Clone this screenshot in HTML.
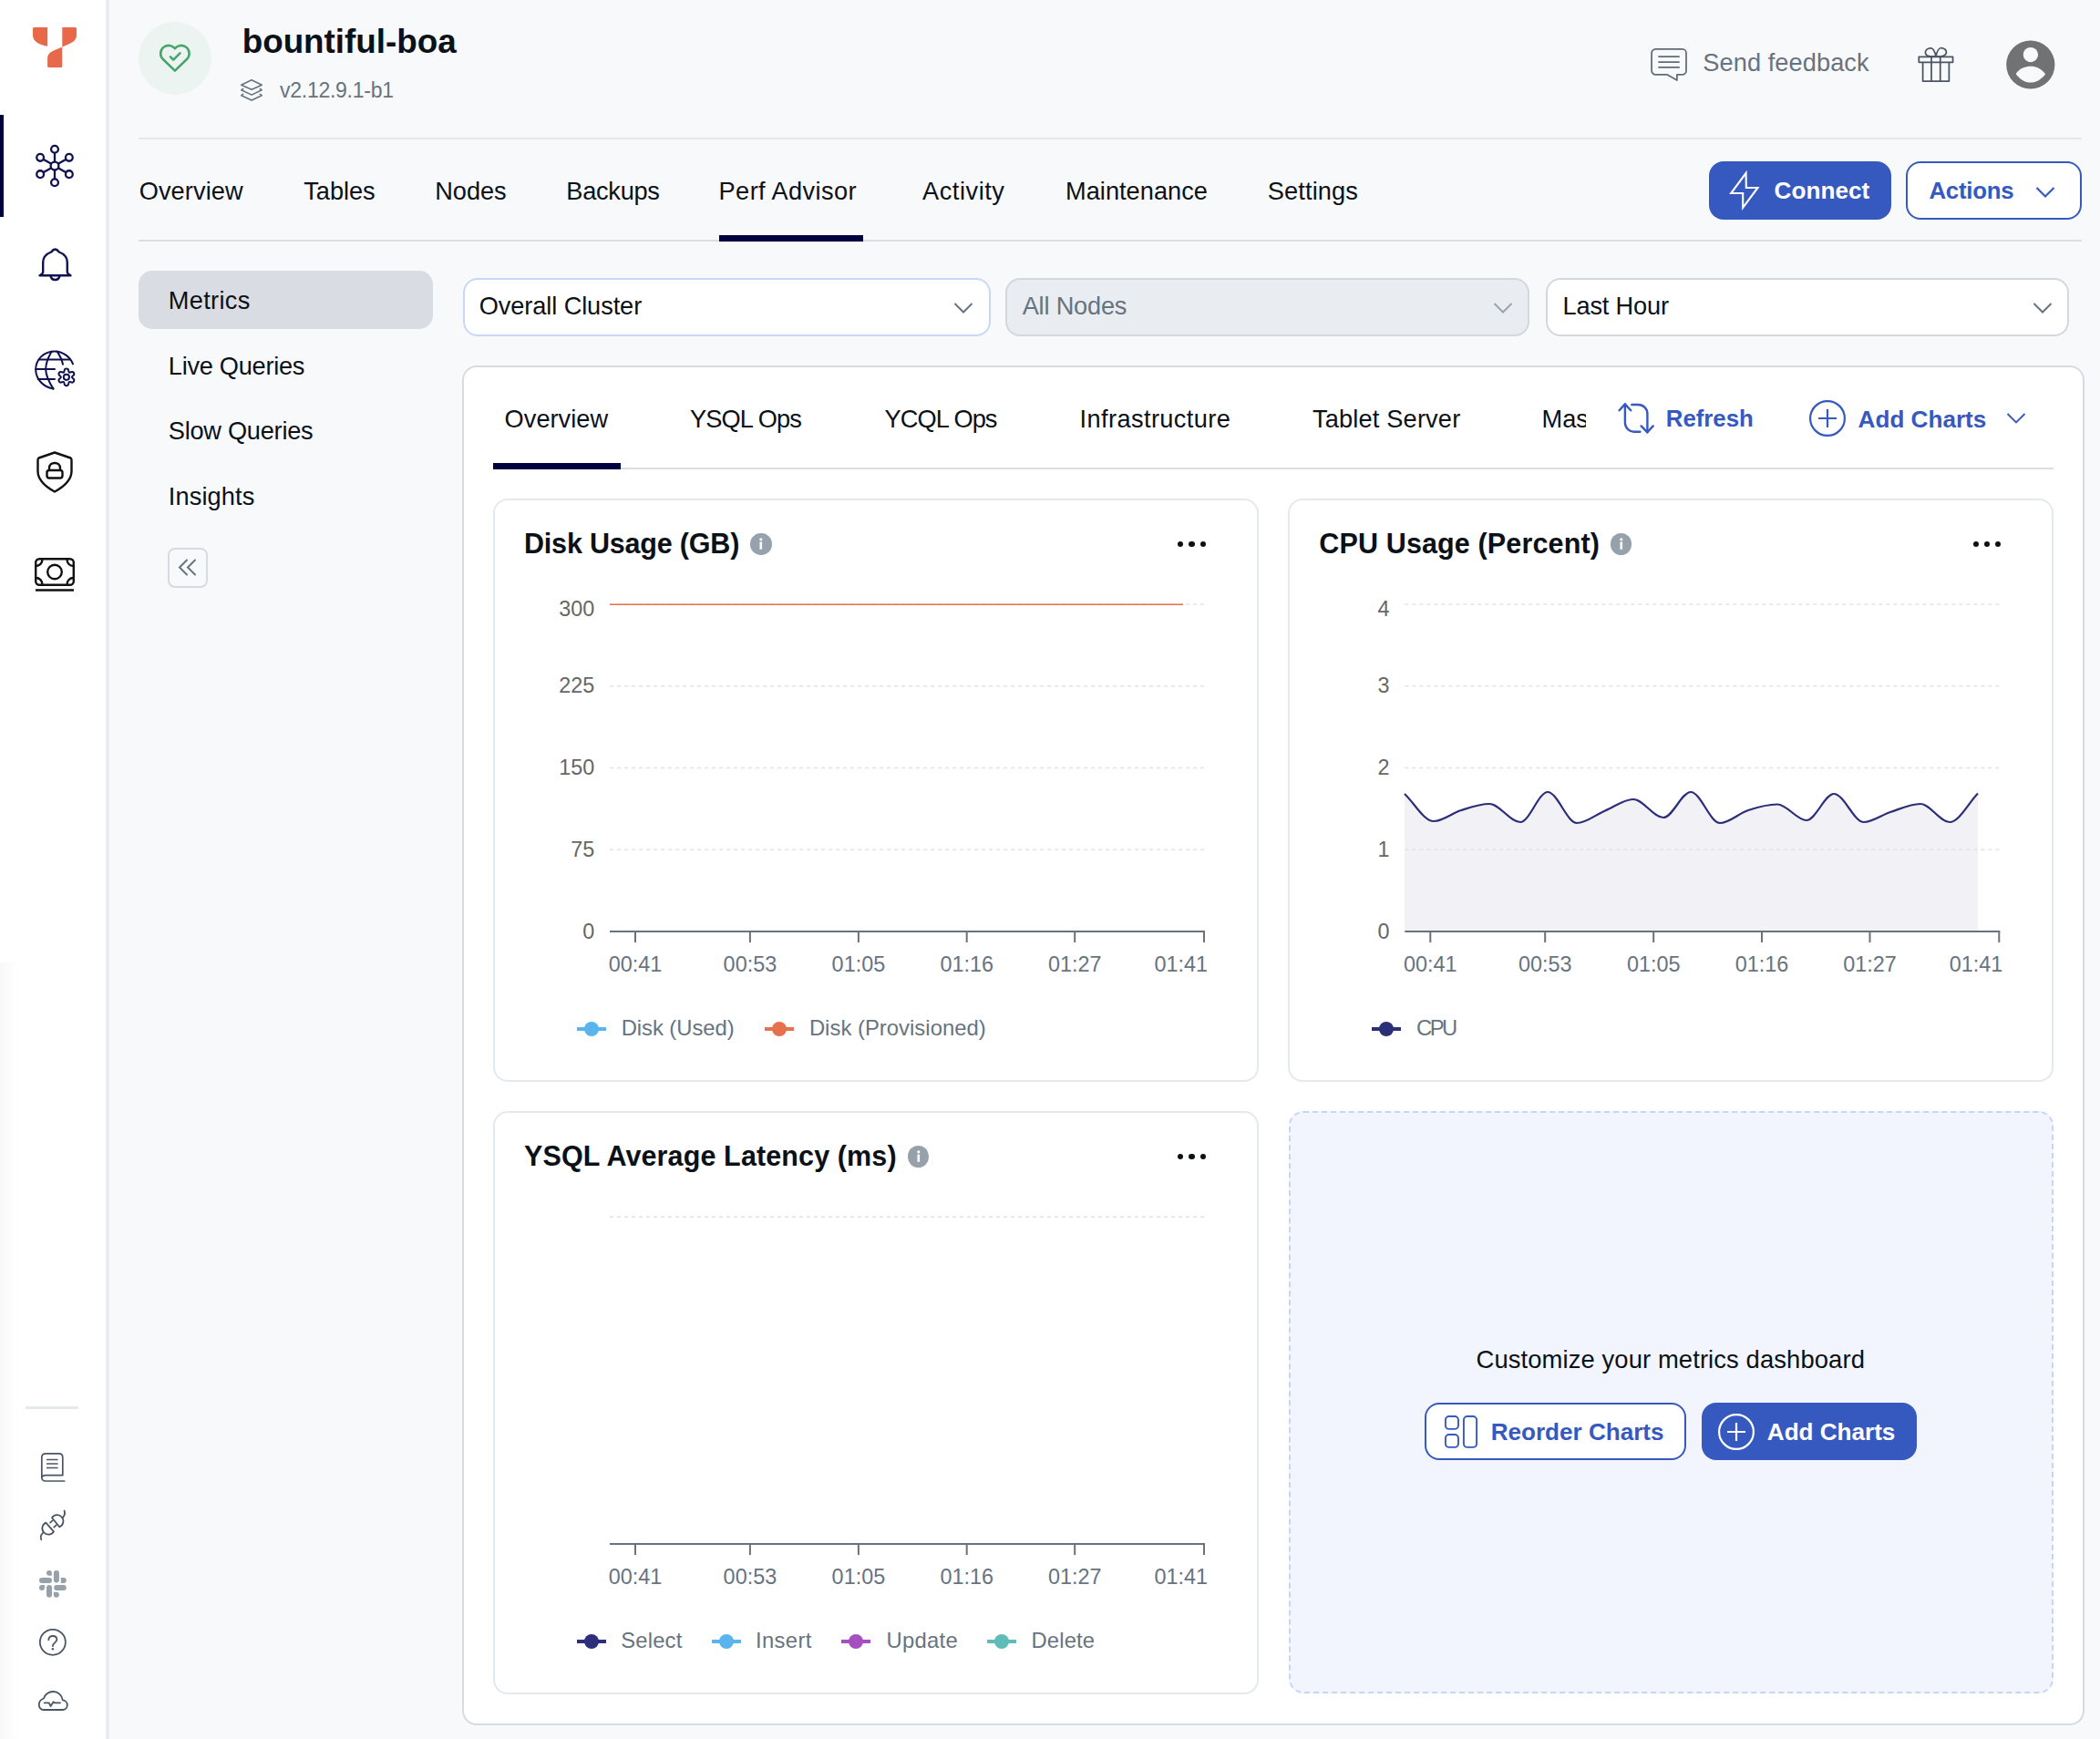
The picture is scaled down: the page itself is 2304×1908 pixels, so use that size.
<!DOCTYPE html>
<html><head><meta charset="utf-8"><title>bountiful-boa - Perf Advisor</title>
<style>
html,body{margin:0;padding:0;}
body{width:2304px;height:1908px;overflow:hidden;position:relative;background:#f8f9fb;font-family:"Liberation Sans", sans-serif;}
.t{position:absolute;white-space:nowrap;line-height:1;font-family:"Liberation Sans", sans-serif;}
svg{display:block}
</style></head><body>
<div style="position:absolute;left:0px;top:0px;width:116px;height:1908px;box-sizing:border-box;background:#ffffff"></div><div style="position:absolute;left:116px;top:0px;width:4px;height:1908px;box-sizing:border-box;background:#e9edf1"></div><div style="position:absolute;left:0px;top:1056px;width:24px;height:852px;box-sizing:border-box;background:linear-gradient(to right,#f8f8f8,#fdfdfd 60%,#ffffff)"></div><div style="position:absolute;left:0px;top:126px;width:4px;height:112px;box-sizing:border-box;background:#000041"></div><svg style="position:absolute;left:36px;top:30px;overflow:visible" width="48" height="44" viewBox="0 0 48 44"><path fill="#e8694a" d="M1.5,0 H16.1 V20.7 C8,19.5 0,16 0,8.5 V1.5 Q0,0 1.5,0 Z"/><path fill="#e8694a" d="M32.3,0 H46.5 Q48,0 48,1.5 V8.5 C48,14 44,16.5 38,19 L32.3,21.4 L24,24.9 C18,27.5 16.1,30 16.1,34.5 V42.5 Q16.1,44 17.6,44 H30.8 Q32.3,44 32.3,42.5 Z"/></svg><svg style="position:absolute;left:39px;top:159px;overflow:visible" width="42" height="46" viewBox="0 0 42 46"><g fill="none" stroke="#0f1150" stroke-width="2.3"><line x1="21.00" y1="18.70" x2="21.00" y2="9.00"/><circle cx="21.00" cy="4.70" r="3.9"/><line x1="24.72" y1="20.85" x2="33.12" y2="16.00"/><circle cx="36.85" cy="13.85" r="3.9"/><line x1="24.72" y1="25.15" x2="33.12" y2="30.00"/><circle cx="36.85" cy="32.15" r="3.9"/><line x1="21.00" y1="27.30" x2="21.00" y2="37.00"/><circle cx="21.00" cy="41.30" r="3.9"/><line x1="17.28" y1="25.15" x2="8.88" y2="30.00"/><circle cx="5.15" cy="32.15" r="3.9"/><line x1="17.28" y1="20.85" x2="8.88" y2="16.00"/><circle cx="5.15" cy="13.85" r="3.9"/><circle cx="21" cy="23" r="4.4"/></g></svg><svg style="position:absolute;left:42px;top:272px;overflow:visible" width="37" height="37" viewBox="0 0 37 37"><g fill="none" stroke="#0f1150" stroke-width="2.4" stroke-linejoin="round"><path d="M18.5,1.5 C16.5,1.5 15.5,2.8 14.2,4.5 C9,6.5 5.2,10.5 5.2,16 V26.5 C5.2,28 4,29 1.5,30.3 H35.5 C33,29 31.8,28 31.8,26.5 V16 C31.8,10.5 28,6.5 22.8,4.5 C21.5,2.8 20.5,1.5 18.5,1.5 Z"/><path d="M13.5,30.5 C14,33.5 16,35 18.5,35 C21,35 23,33.5 23.5,30.5"/></g></svg><svg style="position:absolute;left:38px;top:384px;overflow:visible" width="46" height="44" viewBox="0 0 46 44"><g fill="none" stroke="#0f1150" stroke-width="2" stroke-linecap="round" stroke-linejoin="round"><path d="M20.5,42.6 C9.5,40.5 1.2,32 1.2,21.5 C1.2,10.5 10,1.6 21.5,1.4 C31,1.3 39.5,8 42,15.4"/><path d="M20.5,42.6 C15,34 12.2,28 12.2,21 C12.2,14 15,8 18.7,1.6"/><path d="M24.7,1.6 C27.5,6 30,10.5 31,15.7"/><path d="M4.7,10.6 H39"/><path d="M1.3,21 H22"/><path d="M3.6,32 H22"/><path d="M33.20,21.06 C33.98,20.47 35.82,20.47 36.60,21.06 C37.38,21.65 37.06,24.12 37.90,24.60 C38.74,25.09 40.71,23.58 41.62,23.96 C42.52,24.34 43.43,25.93 43.32,26.90 C43.20,27.88 40.90,28.83 40.90,29.80 C40.90,30.77 43.20,31.72 43.32,32.70 C43.43,33.67 42.52,35.26 41.62,35.64 C40.71,36.02 38.74,34.51 37.90,35.00 C37.06,35.48 37.38,37.95 36.60,38.54 C35.82,39.13 33.98,39.13 33.20,38.54 C32.42,37.95 32.74,35.48 31.90,35.00 C31.06,34.51 29.09,36.02 28.18,35.64 C27.28,35.26 26.37,33.67 26.48,32.70 C26.60,31.72 28.90,30.77 28.90,29.80 C28.90,28.83 26.60,27.88 26.48,26.90 C26.37,25.93 27.28,24.34 28.18,23.96 C29.09,23.58 31.06,25.09 31.90,24.60 C32.74,24.12 32.42,21.65 33.20,21.06 Z"/><circle cx="34.9" cy="29.8" r="3.1"/></g></svg><svg style="position:absolute;left:40px;top:495px;overflow:visible" width="40" height="46" viewBox="0 0 40 46"><g fill="none" stroke="#111111" stroke-width="2.4" stroke-linejoin="round"><path d="M20,1.5 L37.5,7.5 C38.5,8 38.5,9 38.5,10 V22 C38.5,31 31,38.5 20,44.5 C9,38.5 1.5,31 1.5,22 V10 C1.5,9 1.5,8 2.5,7.5 Z"/><path d="M14,21 V18.5 C14,15.2 16.6,13 20,13 C23.4,13 26,15.2 26,18.5 V21"/><rect x="11.5" y="21" width="17" height="8.5" rx="2.5"/></g></svg><svg style="position:absolute;left:38px;top:612px;overflow:visible" width="44" height="37" viewBox="0 0 44 37"><g fill="none" stroke="#111111" stroke-width="2.4"><rect x="1.2" y="1.2" width="41.6" height="28.5" rx="4"/><circle cx="22" cy="15.5" r="7.8"/><path d="M1.2,9 C5.5,9 8.5,6 8.5,1.2"/><path d="M42.8,9 C38.5,9 35.5,6 35.5,1.2"/><path d="M1.2,22 C5.5,22 8.5,25 8.5,29.7"/><path d="M42.8,22 C38.5,22 35.5,25 35.5,29.7"/><path d="M1,35.5 H43"/></g></svg><div style="position:absolute;left:28px;top:1543px;width:58px;height:3px;box-sizing:border-box;background:#e4e9ee"></div><svg style="position:absolute;left:45px;top:1594px;overflow:visible" width="27" height="32" viewBox="0 0 27 32"><g fill="none" stroke="#4b5563" stroke-width="1.7" stroke-linecap="round" stroke-linejoin="round"><path d="M25.7,31 H5 C2.5,31 0.8,29.2 0.8,27.5 V5 C0.8,2.5 2.5,0.8 5,0.8 H19.6 C22,0.8 23.8,2.5 23.8,5 V24.6 H5 C2.5,24.6 0.8,26 0.8,27.5"/><path d="M6.7,7.5 H17.9 M6.7,12 H17.9 M6.7,16.5 H17.9"/></g></svg><svg style="position:absolute;left:38px;top:1650px;overflow:visible" width="40" height="45" viewBox="0 0 40 45"><g fill="none" stroke="#4b5563" stroke-width="1.8" stroke-linecap="round" stroke-linejoin="round"><path d="M19,15.2 A6.8,6.8 0 1 1 27.2,25.3 Z"/><path d="M20.9,30.4 A6.8,6.8 0 1 1 12.3,20.6 Z"/><path d="M17.1,20.6 L19.6,18.4 M21.2,25.6 L23.7,23.4"/><path d="M30.75,15 Q34,12 32.6,7.5"/><path d="M9.1,31.8 Q5.5,35 7.3,39.2"/></g></svg><svg style="position:absolute;left:43px;top:1723px;overflow:visible" width="30" height="30" viewBox="0 0 30 30"><g fill="#97a1ab"><path d="M8,2.85 A2.85,2.85 0 0 1 13.9,2.85 V5.7 H10.85 A2.85,2.85 0 0 1 8,2.85 Z"/><rect x="15.9" y="0" width="6" height="13.6" rx="3"/><rect x="0" y="8" width="14" height="6" rx="3"/><path d="M23.8,8 H26.8 A3,3 0 0 1 26.8,14 H23.8 Z"/><path d="M6,15.9 V18.9 A3,3 0 0 1 0,18.9 A3,3 0 0 1 3,15.9 Z"/><rect x="8" y="15.9" width="6" height="13.9" rx="3"/><rect x="16.2" y="15.9" width="13.6" height="6" rx="3"/><path d="M15.9,23.8 H18.9 A3,3 0 0 1 18.9,29.8 A3,3 0 0 1 15.9,26.8 Z"/></g></svg><svg style="position:absolute;left:43px;top:1787px;overflow:visible" width="30" height="30" viewBox="0 0 30 30"><g fill="none" stroke="#4b5563" stroke-width="1.8" stroke-linecap="round"><circle cx="14.85" cy="14.8" r="14"/><path d="M10.3,12.3 C10.3,9.3 12.4,8 14.9,8 C17.4,8 19.4,9.5 19.4,12 C19.4,14.8 14.9,15.6 14.9,19"/></g><circle cx="14.9" cy="22.3" r="1.2" fill="#4b5563"/></svg><svg style="position:absolute;left:42px;top:1855px;overflow:visible" width="33" height="23" viewBox="0 0 33 23"><g fill="none" stroke="#4b5563" stroke-width="1.8" stroke-linejoin="round" stroke-linecap="round"><path d="M5.5,21 H26.5 C29.8,21 31.8,18.5 31.8,15.8 C31.8,12.8 29.5,10.5 26.8,10.3 C25.8,5 21.8,1 16.5,1 C11,1 7,4.5 6,8.5 C3,9.5 0.8,12 0.8,15.5 C0.8,18.5 3,21 5.5,21 Z"/><path d="M6.7,13.4 H11.8 L13.6,17 L16.6,12.2 L18.3,13.4 H24"/></g></svg><div style="position:absolute;left:152px;top:24px;width:80px;height:80px;border-radius:50%;background:#ecf4f1"></div><svg style="position:absolute;left:170px;top:44px;overflow:visible" width="45" height="40" viewBox="0 0 45 40"><g fill="none" stroke="#47a56c" stroke-width="2.55" stroke-linecap="round" stroke-linejoin="round"><path d="M21.9,33.7 L8.86,21.0 A8.8,8.8 0 1 1 21.9,9.24 A8.8,8.8 0 1 1 34.94,21.0 Z"/><path d="M17,18.4 L20.2,21.6 L27.5,14.3"/></g></svg><div class="t" style="left:265.7px;top:28.4px;font-size:36.8px;font-weight:700;color:#0b1117;letter-spacing:-0.003px;">bountiful-boa</div><svg style="position:absolute;left:258px;top:82px;overflow:visible" width="36" height="34" viewBox="0 0 36 34"><g fill="none" stroke="#67737f" stroke-width="1.6" stroke-linejoin="round" stroke-linecap="round"><path d="M18,5.7 L29.3,11.2 L18.1,16.3 L6.7,11.2 Z"/><path d="M8.6,15.5 L6.8,16.8 L18.1,22.1 L29.2,16.8 L27.4,15.5"/><path d="M8.6,21.3 L6.8,22.7 L18.1,28 L29.2,22.7 L27.4,21.3"/></g></svg><div class="t" style="left:307.0px;top:88.0px;font-size:23px;font-weight:400;color:#67737f;letter-spacing:-0.261px;">v2.12.9.1-b1</div><svg style="position:absolute;left:1805px;top:45px;overflow:visible" width="55" height="50" viewBox="0 0 55 50"><g fill="none" stroke="#5f6b78" stroke-width="1.75" stroke-linejoin="round" stroke-linecap="round"><path d="M11.4,8.9 H40.7 C43,8.9 45,10.9 45,13.2 V32.5 C45,34.8 43,36.8 40.7,36.8 H34.9 V43 L23.9,36.8 H11.4 C9.1,36.8 7.05,34.8 7.05,32.5 V13.2 C7.05,10.9 9.1,8.9 11.4,8.9 Z"/><path d="M15,17 H37.1 M15,23 H37.1 M15,28.9 H37.1"/></g></svg><div class="t" style="left:1868.3px;top:55.0px;font-size:27.2px;font-weight:400;color:#67737f;letter-spacing:0.077px;">Send feedback</div><svg style="position:absolute;left:2100px;top:45px;overflow:visible" width="50" height="50" viewBox="0 0 50 50"><g fill="none" stroke="#4b5563" stroke-width="1.75" stroke-linejoin="round"><rect x="5.3" y="17.4" width="37.25" height="5.9"/><path d="M9.6,23.3 V44.1 H38.4 V23.3"/><path d="M19,17.4 V44.1 M28.75,17.4 V44.1"/><path d="M23.9,17 C23,12 21,8 18.5,7.8 C15,7.5 12.3,10 12.4,12.5 C12.5,15 14,16.3 17,16.6 Z"/><path d="M23.9,17 C25,12 27,7.6 29.8,7.5 C33,7.5 35.4,10 35.4,12.2 C35.4,15 33.5,16.2 30.5,16.5 Z"/></g></svg><svg style="position:absolute;left:2195px;top:38px;overflow:visible" width="66" height="66" viewBox="0 0 66 66"><circle cx="32.8" cy="33" r="26.6" fill="#717274"/><circle cx="32.9" cy="22.1" r="8.15" fill="#f8f9fb"/><path fill="#f8f9fb" d="M16.7,43 C21,36.5 27.5,34.7 32.9,34.7 C38.5,34.7 45,37 49.1,43.4 C44.5,49 39,52.6 32.9,52.6 C26.5,52.6 21,49 16.7,43 Z"/></svg><div style="position:absolute;left:152px;top:151px;width:2132px;height:2px;box-sizing:border-box;background:#e6e9ed"></div><div class="t" style="left:152.7px;top:195.5px;font-size:27.2px;font-weight:400;color:#0b1117;letter-spacing:0.092px;">Overview</div><div class="t" style="left:333.3px;top:195.5px;font-size:27.2px;font-weight:400;color:#0b1117;letter-spacing:-0.045px;">Tables</div><div class="t" style="left:477.3px;top:195.5px;font-size:27.2px;font-weight:400;color:#0b1117;letter-spacing:-0.056px;">Nodes</div><div class="t" style="left:621.3px;top:195.5px;font-size:27.2px;font-weight:400;color:#0b1117;letter-spacing:-0.271px;">Backups</div><div class="t" style="left:788.6px;top:195.5px;font-size:27.2px;font-weight:400;color:#0b1117;letter-spacing:0.396px;">Perf Advisor</div><div class="t" style="left:1012.0px;top:195.5px;font-size:27.2px;font-weight:400;color:#0b1117;letter-spacing:0.551px;">Activity</div><div class="t" style="left:1169.0px;top:195.5px;font-size:27.2px;font-weight:400;color:#0b1117;letter-spacing:0.025px;">Maintenance</div><div class="t" style="left:1390.7px;top:195.5px;font-size:27.2px;font-weight:400;color:#0b1117;letter-spacing:0.146px;">Settings</div><div style="position:absolute;left:152px;top:263px;width:2132px;height:2px;box-sizing:border-box;background:#dadfe5"></div><div style="position:absolute;left:789px;top:258px;width:158px;height:7px;box-sizing:border-box;background:#000041"></div><div style="position:absolute;left:1875px;top:177px;width:200px;height:64px;box-sizing:border-box;background:#3659bf;border-radius:16px"></div><svg style="position:absolute;left:1890px;top:183px;overflow:visible" width="50" height="50" viewBox="0 0 50 50"><path fill="none" stroke="#ffffff" stroke-width="2.1" stroke-linejoin="miter" d="M25.6,6.9 L9.2,29 H22.2 V44.9 L38.5,23 H25.8 Z"/></svg><div class="t" style="left:1946.6px;top:196.2px;font-size:26.1px;font-weight:700;color:#ffffff;letter-spacing:0.033px;">Connect</div><div style="position:absolute;left:2091px;top:177px;width:193px;height:64px;box-sizing:border-box;background:#ffffff;border:2px solid #3659bf;border-radius:16px"></div><div class="t" style="left:2116.5px;top:196.5px;font-size:25.8px;font-weight:700;color:#3659bf;letter-spacing:-0.268px;">Actions</div><svg style="position:absolute;left:2233px;top:204px;overflow:visible" width="22" height="14" viewBox="0 0 22 14"><path fill="none" stroke="#3659bf" stroke-width="2.2" d="M1.5,2 L11,11.5 L20.5,2"/></svg><div style="position:absolute;left:152px;top:297px;width:323px;height:64px;box-sizing:border-box;background:#d9dde3;border-radius:15px"></div><div class="t" style="left:184.8px;top:315.6px;font-size:27.2px;font-weight:400;color:#0b1117;letter-spacing:0.326px;">Metrics</div><div class="t" style="left:184.8px;top:387.7px;font-size:27.2px;font-weight:400;color:#0b1117;letter-spacing:-0.273px;">Live Queries</div><div class="t" style="left:184.8px;top:459.0px;font-size:27.2px;font-weight:400;color:#0b1117;letter-spacing:-0.260px;">Slow Queries</div><div class="t" style="left:184.8px;top:531.0px;font-size:27.2px;font-weight:400;color:#0b1117;letter-spacing:0.108px;">Insights</div><div style="position:absolute;left:184px;top:601px;width:44px;height:44px;box-sizing:border-box;background:#f8f9fb;border:2px solid #d6dbe1;border-radius:8px"></div><svg style="position:absolute;left:195px;top:613px;overflow:visible" width="22" height="20" viewBox="0 0 22 20"><g fill="none" stroke="#67737f" stroke-width="2" stroke-linecap="round"><path d="M10,1.5 L2,9.5 L10,17.5"/><path d="M19,1.5 L11,9.5 L19,17.5"/></g></svg><div style="position:absolute;left:508px;top:305px;width:579px;height:64px;box-sizing:border-box;background:#ffffff;border:2px solid #c8d7f8;border-radius:16px"></div><div class="t" style="left:525.7px;top:322.0px;font-size:27.2px;font-weight:400;color:#0b1117;letter-spacing:-0.091px;">Overall Cluster</div><svg style="position:absolute;left:1046px;top:331px;overflow:visible" width="22" height="14" viewBox="0 0 22 14"><path fill="none" stroke="#67737f" stroke-width="2" d="M1.5,2 L11,11.5 L20.5,2"/></svg><div style="position:absolute;left:1103px;top:305px;width:575px;height:64px;box-sizing:border-box;background:#e9ecf0;border:2px solid #d3d8de;border-radius:16px"></div><div class="t" style="left:1121.7px;top:322.0px;font-size:27.2px;font-weight:400;color:#67737f;letter-spacing:-0.201px;">All Nodes</div><svg style="position:absolute;left:1638px;top:331px;overflow:visible" width="22" height="14" viewBox="0 0 22 14"><path fill="none" stroke="#9aa4ae" stroke-width="2" d="M1.5,2 L11,11.5 L20.5,2"/></svg><div style="position:absolute;left:1696px;top:305px;width:574px;height:64px;box-sizing:border-box;background:#ffffff;border:2px solid #d3d8de;border-radius:16px"></div><div class="t" style="left:1714.6px;top:322.2px;font-size:27.2px;font-weight:400;color:#0b1117;letter-spacing:-0.191px;">Last Hour</div><svg style="position:absolute;left:2230px;top:331px;overflow:visible" width="22" height="14" viewBox="0 0 22 14"><path fill="none" stroke="#67737f" stroke-width="2" d="M1.5,2 L11,11.5 L20.5,2"/></svg><div style="position:absolute;left:507px;top:401px;width:1780px;height:1492px;box-sizing:border-box;background:#ffffff;border:2px solid #d6dbe2;border-radius:16px"></div><div class="t" style="left:553.6px;top:445.7px;font-size:27.2px;font-weight:400;color:#0b1117;letter-spacing:0.021px;">Overview</div><div class="t" style="left:757.0px;top:445.7px;font-size:27.2px;font-weight:400;color:#0b1117;letter-spacing:-0.858px;">YSQL Ops</div><div class="t" style="left:970.6px;top:445.7px;font-size:27.2px;font-weight:400;color:#0b1117;letter-spacing:-0.944px;">YCQL Ops</div><div class="t" style="left:1184.5px;top:445.7px;font-size:27.2px;font-weight:400;color:#0b1117;letter-spacing:0.404px;">Infrastructure</div><div class="t" style="left:1440.0px;top:445.7px;font-size:27.2px;font-weight:400;color:#0b1117;letter-spacing:0.170px;">Tablet Server</div><div class="t" style="left:1691.5px;top:445.7px;font-size:27.2px;font-weight:400;color:#0b1117;letter-spacing:0.000px;width:48px;overflow:hidden;">Mas</div><div style="position:absolute;left:541px;top:513px;width:1712px;height:2px;box-sizing:border-box;background:#dadfe5"></div><div style="position:absolute;left:541px;top:508px;width:140px;height:7px;box-sizing:border-box;background:#000041"></div><svg style="position:absolute;left:1776px;top:438px;overflow:visible" width="40" height="42" viewBox="0 0 40 42"><g fill="none" stroke="#3659bf" stroke-width="2.4" stroke-linecap="round" stroke-linejoin="round"><path d="M6.9,5.4 V25.7 A10,10 0 0 0 16.9,35.7 H23.4"/><path d="M0.6,12.3 L6.9,5.4 L13.2,12.3"/><path d="M31.4,36.3 V16 A10,10 0 0 0 21.4,6 H14.3"/><path d="M24.6,29.4 L31.4,36.3 L37.7,29.4"/></g></svg><div class="t" style="left:1827.8px;top:446.9px;font-size:25.8px;font-weight:700;color:#3659bf;letter-spacing:-0.012px;">Refresh</div><svg style="position:absolute;left:1985px;top:439px;overflow:visible" width="40" height="40" viewBox="0 0 40 40"><g fill="none" stroke="#3659bf" stroke-width="2.2"><circle cx="20" cy="20" r="18.9"/><path d="M20,10 V30 M10,20 H30"/></g></svg><div class="t" style="left:2038.6px;top:446.6px;font-size:26.1px;font-weight:700;color:#3659bf;letter-spacing:0.005px;">Add Charts</div><svg style="position:absolute;left:2201px;top:452px;overflow:visible" width="22" height="14" viewBox="0 0 22 14"><path fill="none" stroke="#3659bf" stroke-width="1.9" d="M1.5,2 L11,11.5 L20.5,2"/></svg><div style="position:absolute;left:540.7px;top:546.9px;width:840.0px;height:639.7999999999998px;box-sizing:border-box;background:#ffffff;border:2px solid #e4e9ee;border-radius:16px"></div><div class="t" style="left:575.0px;top:580.9px;font-size:30.5px;font-weight:700;color:#0b1117;letter-spacing:-0.192px;">Disk Usage (GB)</div><div style="position:absolute;left:823.3px;top:585.3px;width:23.6px;height:23.6px;border-radius:50%;background:#97a1ab"></div><svg style="position:absolute;left:823.3px;top:585.3px;overflow:visible" width="23.6" height="23.6" viewBox="0 0 23.6 23.6"><circle cx="11.8" cy="6.8" r="1.6" fill="#fff"/><rect x="10.5" y="9.6" width="2.6" height="8.2" rx="0.6" fill="#fff"/></svg><div style="position:absolute;left:1292.3px;top:593.8px;width:6.2px;height:6.2px;border-radius:50%;background:#0b1117"></div><div style="position:absolute;left:1304.4px;top:593.8px;width:6.2px;height:6.2px;border-radius:50%;background:#0b1117"></div><div style="position:absolute;left:1316.5px;top:593.8px;width:6.2px;height:6.2px;border-radius:50%;background:#0b1117"></div><svg style="position:absolute;left:0px;top:0px;overflow:visible" width="2304" height="1908" viewBox="0 0 2304 1908"><line x1="669.0" y1="663.0" x2="1321.0" y2="663.0" stroke="#dfe4e9" stroke-width="1.6" stroke-dasharray="4 4"/><line x1="669.0" y1="752.7" x2="1321.0" y2="752.7" stroke="#dfe4e9" stroke-width="1.6" stroke-dasharray="4 4"/><line x1="669.0" y1="842.5" x2="1321.0" y2="842.5" stroke="#dfe4e9" stroke-width="1.6" stroke-dasharray="4 4"/><line x1="669.0" y1="932.3" x2="1321.0" y2="932.3" stroke="#dfe4e9" stroke-width="1.6" stroke-dasharray="4 4"/><line x1="669" y1="663.3" x2="1298" y2="663.3" stroke="#ea6f4f" stroke-width="1.6"/><line x1="669.0" y1="1022.0" x2="1322.0" y2="1022.0" stroke="#67737f" stroke-width="2"/><line x1="697.0" y1="1022.0" x2="697.0" y2="1034.0" stroke="#67737f" stroke-width="2"/><line x1="822.9" y1="1022.0" x2="822.9" y2="1034.0" stroke="#67737f" stroke-width="2"/><line x1="941.9" y1="1022.0" x2="941.9" y2="1034.0" stroke="#67737f" stroke-width="2"/><line x1="1060.7" y1="1022.0" x2="1060.7" y2="1034.0" stroke="#67737f" stroke-width="2"/><line x1="1179.2" y1="1022.0" x2="1179.2" y2="1034.0" stroke="#67737f" stroke-width="2"/><line x1="1321.0" y1="1022.0" x2="1321.0" y2="1034.0" stroke="#67737f" stroke-width="2"/></svg><div class="t" style="left:697.0px;transform:translateX(-50%);top:1046.6px;font-size:23.4px;font-weight:400;color:#67737f;letter-spacing:0.000px;">00:41</div><div class="t" style="left:822.9px;transform:translateX(-50%);top:1046.6px;font-size:23.4px;font-weight:400;color:#67737f;letter-spacing:0.000px;">00:53</div><div class="t" style="left:941.9px;transform:translateX(-50%);top:1046.6px;font-size:23.4px;font-weight:400;color:#67737f;letter-spacing:0.000px;">01:05</div><div class="t" style="left:1060.7px;transform:translateX(-50%);top:1046.6px;font-size:23.4px;font-weight:400;color:#67737f;letter-spacing:0.000px;">01:16</div><div class="t" style="left:1179.2px;transform:translateX(-50%);top:1046.6px;font-size:23.4px;font-weight:400;color:#67737f;letter-spacing:0.000px;">01:27</div><div class="t" style="right:979.0px;top:1046.6px;font-size:23.4px;font-weight:400;color:#67737f;letter-spacing:0.000px;">01:41</div><div class="t" style="right:1651.8px;top:657.2px;font-size:23.4px;font-weight:400;color:#666666;letter-spacing:0.000px;">300</div><div class="t" style="right:1651.8px;top:741.4px;font-size:23.4px;font-weight:400;color:#666666;letter-spacing:0.000px;">225</div><div class="t" style="right:1651.8px;top:831.2px;font-size:23.4px;font-weight:400;color:#666666;letter-spacing:0.000px;">150</div><div class="t" style="right:1651.8px;top:921.0px;font-size:23.4px;font-weight:400;color:#666666;letter-spacing:0.000px;">75</div><div class="t" style="right:1651.8px;top:1010.7px;font-size:23.4px;font-weight:400;color:#666666;letter-spacing:0.000px;">0</div><div style="position:absolute;left:633.0px;top:1126.9px;width:32px;height:4px;background:#5ab4ee"></div><div style="position:absolute;left:641.0px;top:1120.9px;width:16px;height:16px;border-radius:50%;background:#5ab4ee"></div><div class="t" style="left:681.7px;top:1115.6px;font-size:23.8px;font-weight:400;color:#67737f;letter-spacing:-0.040px;">Disk (Used)</div><div style="position:absolute;left:839.0px;top:1126.9px;width:32px;height:4px;background:#e8714d"></div><div style="position:absolute;left:847.0px;top:1120.9px;width:16px;height:16px;border-radius:50%;background:#e8714d"></div><div class="t" style="left:887.9px;top:1115.6px;font-size:23.8px;font-weight:400;color:#67737f;letter-spacing:0.041px;">Disk (Provisioned)</div><div style="position:absolute;left:1413.0px;top:546.9px;width:840.0px;height:639.7999999999998px;box-sizing:border-box;background:#ffffff;border:2px solid #e4e9ee;border-radius:16px"></div><div class="t" style="left:1447.3px;top:580.9px;font-size:30.5px;font-weight:700;color:#0b1117;letter-spacing:0.139px;">CPU Usage (Percent)</div><div style="position:absolute;left:1766.9px;top:585.3px;width:23.6px;height:23.6px;border-radius:50%;background:#97a1ab"></div><svg style="position:absolute;left:1766.9px;top:585.3px;overflow:visible" width="23.6" height="23.6" viewBox="0 0 23.6 23.6"><circle cx="11.8" cy="6.8" r="1.6" fill="#fff"/><rect x="10.5" y="9.6" width="2.6" height="8.2" rx="0.6" fill="#fff"/></svg><div style="position:absolute;left:2164.6px;top:593.8px;width:6.2px;height:6.2px;border-radius:50%;background:#0b1117"></div><div style="position:absolute;left:2176.7px;top:593.8px;width:6.2px;height:6.2px;border-radius:50%;background:#0b1117"></div><div style="position:absolute;left:2188.8px;top:593.8px;width:6.2px;height:6.2px;border-radius:50%;background:#0b1117"></div><svg style="position:absolute;left:0px;top:0px;overflow:visible" width="2304" height="1908" viewBox="0 0 2304 1908"><path d="M1541,871 C1551.67,881.00 1562.33,901.00 1573,901 C1583.00,901.00 1593.00,892.14 1603,889 C1613.33,885.75 1623.67,882.00 1634,882 C1645.33,882.00 1656.67,902.00 1668,902 C1678.00,902.00 1688.00,869.00 1698,869 C1708.67,869.00 1719.33,903.00 1730,903 C1740.33,903.00 1750.67,893.83 1761,889.5 C1771.33,885.17 1781.67,877.00 1792,877 C1803.00,877.00 1814.00,897.00 1825,897 C1835.00,897.00 1845.00,869.00 1855,869 C1865.67,869.00 1876.33,903.00 1887,903 C1897.33,903.00 1907.67,892.40 1918,889 C1928.67,885.49 1939.33,882.50 1950,882.5 C1960.67,882.50 1971.33,900.00 1982,900 C1992.00,900.00 2002.00,871.00 2012,871 C2023.00,871.00 2034.00,902.00 2045,902 C2054.67,902.00 2064.33,894.18 2074,891 C2085.00,887.38 2096.00,882.00 2107,882 C2117.67,882.00 2128.33,902.00 2139,902 C2149.33,902.00 2159.67,881.00 2170,870.5 L2170,1021.9 L1541,1021.9 Z" fill="#f1f1f6"/><line x1="1541.3" y1="663.0" x2="2193.3" y2="663.0" stroke="#dfe4e9" stroke-width="1.6" stroke-dasharray="4 4"/><line x1="1541.3" y1="752.7" x2="2193.3" y2="752.7" stroke="#dfe4e9" stroke-width="1.6" stroke-dasharray="4 4"/><line x1="1541.3" y1="842.5" x2="2193.3" y2="842.5" stroke="#dfe4e9" stroke-width="1.6" stroke-dasharray="4 4"/><line x1="1541.3" y1="932.3" x2="2193.3" y2="932.3" stroke="#dfe4e9" stroke-width="1.6" stroke-dasharray="4 4"/><path d="M1541,871 C1551.67,881.00 1562.33,901.00 1573,901 C1583.00,901.00 1593.00,892.14 1603,889 C1613.33,885.75 1623.67,882.00 1634,882 C1645.33,882.00 1656.67,902.00 1668,902 C1678.00,902.00 1688.00,869.00 1698,869 C1708.67,869.00 1719.33,903.00 1730,903 C1740.33,903.00 1750.67,893.83 1761,889.5 C1771.33,885.17 1781.67,877.00 1792,877 C1803.00,877.00 1814.00,897.00 1825,897 C1835.00,897.00 1845.00,869.00 1855,869 C1865.67,869.00 1876.33,903.00 1887,903 C1897.33,903.00 1907.67,892.40 1918,889 C1928.67,885.49 1939.33,882.50 1950,882.5 C1960.67,882.50 1971.33,900.00 1982,900 C1992.00,900.00 2002.00,871.00 2012,871 C2023.00,871.00 2034.00,902.00 2045,902 C2054.67,902.00 2064.33,894.18 2074,891 C2085.00,887.38 2096.00,882.00 2107,882 C2117.67,882.00 2128.33,902.00 2139,902 C2149.33,902.00 2159.67,881.00 2170,870.5" fill="none" stroke="#2b2e78" stroke-width="2.2"/><line x1="1541.3" y1="1022.0" x2="2194.3" y2="1022.0" stroke="#67737f" stroke-width="2"/><line x1="1569.3" y1="1022.0" x2="1569.3" y2="1034.0" stroke="#67737f" stroke-width="2"/><line x1="1695.1999999999998" y1="1022.0" x2="1695.1999999999998" y2="1034.0" stroke="#67737f" stroke-width="2"/><line x1="1814.1999999999998" y1="1022.0" x2="1814.1999999999998" y2="1034.0" stroke="#67737f" stroke-width="2"/><line x1="1933.0" y1="1022.0" x2="1933.0" y2="1034.0" stroke="#67737f" stroke-width="2"/><line x1="2051.5" y1="1022.0" x2="2051.5" y2="1034.0" stroke="#67737f" stroke-width="2"/><line x1="2193.3" y1="1022.0" x2="2193.3" y2="1034.0" stroke="#67737f" stroke-width="2"/></svg><div class="t" style="left:1569.3px;transform:translateX(-50%);top:1046.6px;font-size:23.4px;font-weight:400;color:#67737f;letter-spacing:0.000px;">00:41</div><div class="t" style="left:1695.2px;transform:translateX(-50%);top:1046.6px;font-size:23.4px;font-weight:400;color:#67737f;letter-spacing:0.000px;">00:53</div><div class="t" style="left:1814.2px;transform:translateX(-50%);top:1046.6px;font-size:23.4px;font-weight:400;color:#67737f;letter-spacing:0.000px;">01:05</div><div class="t" style="left:1933.0px;transform:translateX(-50%);top:1046.6px;font-size:23.4px;font-weight:400;color:#67737f;letter-spacing:0.000px;">01:16</div><div class="t" style="left:2051.5px;transform:translateX(-50%);top:1046.6px;font-size:23.4px;font-weight:400;color:#67737f;letter-spacing:0.000px;">01:27</div><div class="t" style="right:106.7px;top:1046.6px;font-size:23.4px;font-weight:400;color:#67737f;letter-spacing:0.000px;">01:41</div><div class="t" style="right:779.5px;top:657.2px;font-size:23.4px;font-weight:400;color:#666666;letter-spacing:0.000px;">4</div><div class="t" style="right:779.5px;top:741.4px;font-size:23.4px;font-weight:400;color:#666666;letter-spacing:0.000px;">3</div><div class="t" style="right:779.5px;top:831.2px;font-size:23.4px;font-weight:400;color:#666666;letter-spacing:0.000px;">2</div><div class="t" style="right:779.5px;top:921.0px;font-size:23.4px;font-weight:400;color:#666666;letter-spacing:0.000px;">1</div><div class="t" style="right:779.5px;top:1010.7px;font-size:23.4px;font-weight:400;color:#666666;letter-spacing:0.000px;">0</div><div style="position:absolute;left:1505.0px;top:1126.9px;width:32px;height:4px;background:#2b2e78"></div><div style="position:absolute;left:1513.0px;top:1120.9px;width:16px;height:16px;border-radius:50%;background:#2b2e78"></div><div class="t" style="left:1553.9px;top:1115.6px;font-size:23.8px;font-weight:400;color:#67737f;letter-spacing:-2.426px;">CPU</div><div style="position:absolute;left:540.7px;top:1219.0px;width:840.0px;height:639.8px;box-sizing:border-box;background:#ffffff;border:2px solid #e4e9ee;border-radius:16px"></div><div class="t" style="left:575.0px;top:1253.0px;font-size:30.5px;font-weight:700;color:#0b1117;letter-spacing:0.121px;">YSQL Average Latency (ms)</div><div style="position:absolute;left:995.6px;top:1257.4px;width:23.6px;height:23.6px;border-radius:50%;background:#97a1ab"></div><svg style="position:absolute;left:995.6px;top:1257.4px;overflow:visible" width="23.6" height="23.6" viewBox="0 0 23.6 23.6"><circle cx="11.8" cy="6.8" r="1.6" fill="#fff"/><rect x="10.5" y="9.6" width="2.6" height="8.2" rx="0.6" fill="#fff"/></svg><div style="position:absolute;left:1292.3px;top:1265.9px;width:6.2px;height:6.2px;border-radius:50%;background:#0b1117"></div><div style="position:absolute;left:1304.4px;top:1265.9px;width:6.2px;height:6.2px;border-radius:50%;background:#0b1117"></div><div style="position:absolute;left:1316.5px;top:1265.9px;width:6.2px;height:6.2px;border-radius:50%;background:#0b1117"></div><svg style="position:absolute;left:0px;top:0px;overflow:visible" width="2304" height="1908" viewBox="0 0 2304 1908"><line x1="669.0" y1="1335.1" x2="1321.0" y2="1335.1" stroke="#dfe4e9" stroke-width="1.6" stroke-dasharray="4 4"/><line x1="669.0" y1="1694.1" x2="1322.0" y2="1694.1" stroke="#67737f" stroke-width="2"/><line x1="697.0" y1="1694.1" x2="697.0" y2="1706.1" stroke="#67737f" stroke-width="2"/><line x1="822.9" y1="1694.1" x2="822.9" y2="1706.1" stroke="#67737f" stroke-width="2"/><line x1="941.9" y1="1694.1" x2="941.9" y2="1706.1" stroke="#67737f" stroke-width="2"/><line x1="1060.7" y1="1694.1" x2="1060.7" y2="1706.1" stroke="#67737f" stroke-width="2"/><line x1="1179.2" y1="1694.1" x2="1179.2" y2="1706.1" stroke="#67737f" stroke-width="2"/><line x1="1321.0" y1="1694.1" x2="1321.0" y2="1706.1" stroke="#67737f" stroke-width="2"/></svg><div class="t" style="left:697.0px;transform:translateX(-50%);top:1718.7px;font-size:23.4px;font-weight:400;color:#67737f;letter-spacing:0.000px;">00:41</div><div class="t" style="left:822.9px;transform:translateX(-50%);top:1718.7px;font-size:23.4px;font-weight:400;color:#67737f;letter-spacing:0.000px;">00:53</div><div class="t" style="left:941.9px;transform:translateX(-50%);top:1718.7px;font-size:23.4px;font-weight:400;color:#67737f;letter-spacing:0.000px;">01:05</div><div class="t" style="left:1060.7px;transform:translateX(-50%);top:1718.7px;font-size:23.4px;font-weight:400;color:#67737f;letter-spacing:0.000px;">01:16</div><div class="t" style="left:1179.2px;transform:translateX(-50%);top:1718.7px;font-size:23.4px;font-weight:400;color:#67737f;letter-spacing:0.000px;">01:27</div><div class="t" style="right:979.0px;top:1718.7px;font-size:23.4px;font-weight:400;color:#67737f;letter-spacing:0.000px;">01:41</div><div style="position:absolute;left:633.0px;top:1799.0px;width:32px;height:4px;background:#2d2f7a"></div><div style="position:absolute;left:641.0px;top:1793.0px;width:16px;height:16px;border-radius:50%;background:#2d2f7a"></div><div class="t" style="left:681.2px;top:1787.7px;font-size:23.8px;font-weight:400;color:#67737f;letter-spacing:0.190px;">Select</div><div style="position:absolute;left:781.0px;top:1799.0px;width:32px;height:4px;background:#5ab4ee"></div><div style="position:absolute;left:789.0px;top:1793.0px;width:16px;height:16px;border-radius:50%;background:#5ab4ee"></div><div class="t" style="left:829.0px;top:1787.7px;font-size:23.8px;font-weight:400;color:#67737f;letter-spacing:0.375px;">Insert</div><div style="position:absolute;left:922.7px;top:1799.0px;width:32px;height:4px;background:#a64fc0"></div><div style="position:absolute;left:930.7px;top:1793.0px;width:16px;height:16px;border-radius:50%;background:#a64fc0"></div><div class="t" style="left:972.4px;top:1787.7px;font-size:23.8px;font-weight:400;color:#67737f;letter-spacing:0.310px;">Update</div><div style="position:absolute;left:1083.0px;top:1799.0px;width:32px;height:4px;background:#5fbcb8"></div><div style="position:absolute;left:1091.0px;top:1793.0px;width:16px;height:16px;border-radius:50%;background:#5fbcb8"></div><div class="t" style="left:1131.5px;top:1787.7px;font-size:23.8px;font-weight:400;color:#67737f;letter-spacing:0.141px;">Delete</div><div style="position:absolute;left:1414px;top:1219px;width:839px;height:639px;box-sizing:border-box;background:#f2f5fd;border:2px dashed #c6d5f4;border-radius:16px"></div><div class="t" style="left:1619.5px;top:1477.8px;font-size:27.4px;font-weight:400;color:#0b1117;letter-spacing:0.102px;">Customize your metrics dashboard</div><div style="position:absolute;left:1563px;top:1539px;width:287px;height:63px;box-sizing:border-box;background:#ffffff;border:2px solid #3659bf;border-radius:16px"></div><svg style="position:absolute;left:1575px;top:1545px;overflow:visible" width="55" height="55" viewBox="0 0 55 55"><g fill="none" stroke="#3659bf" stroke-width="1.9"><rect x="10.9" y="9" width="14.1" height="13.9" rx="4"/><rect x="10.9" y="29" width="14.1" height="13.9" rx="4"/><rect x="30.9" y="9" width="14.2" height="33.9" rx="4"/></g></svg><div class="t" style="left:1635.7px;top:1558.1px;font-size:26.1px;font-weight:700;color:#3659bf;letter-spacing:-0.008px;">Reorder Charts</div><div style="position:absolute;left:1867px;top:1539px;width:236px;height:63px;box-sizing:border-box;background:#3659bf;border-radius:16px"></div><svg style="position:absolute;left:1885px;top:1551px;overflow:visible" width="40" height="40" viewBox="0 0 40 40"><g fill="none" stroke="#ffffff" stroke-width="2.2"><circle cx="20" cy="20" r="18.9"/><path d="M20,10 V30 M10,20 H30"/></g></svg><div class="t" style="left:1938.8px;top:1558.1px;font-size:26.1px;font-weight:700;color:#ffffff;letter-spacing:-0.007px;">Add Charts</div>
</body></html>
